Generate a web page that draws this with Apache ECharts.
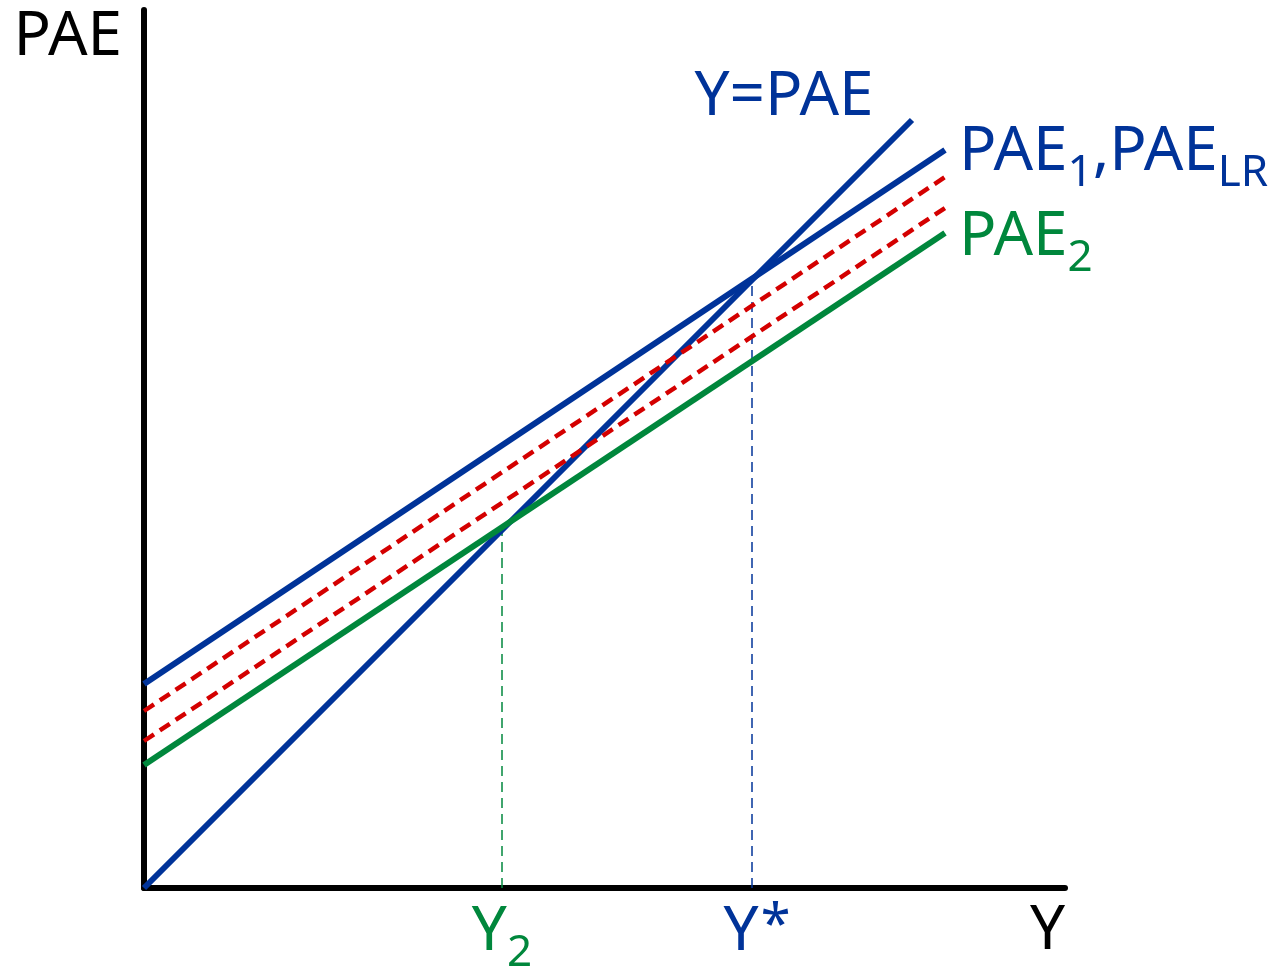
<!doctype html>
<html>
	<head>
		<meta charset="utf-8">
		<title>PAE</title>
		<script type="text/javascript" src="https://cdn.jsdelivr.net/npm/echarts@6/dist/echarts.min.js"></script>
	</head>

	<body style="margin:0;padding:0;background:#fff">
		<div id="tb" style="width:1282px;height:977px;"></div>
		<script>
			// 数据（单位：任意产出单位）
			var diagonal = [[0, 0], [768, 768]];          // Y = PAE
			var pae1 = [[0, 204], [801, 738]];            // PAE1, PAE_LR
			var paeShift1 = [[0, 177], [801, 711]];       // 红色虚线 1
			var paeShift2 = [[0, 147], [801, 680]];       // 红色虚线 2
			var pae2 = [[0, 123], [801, 655]];            // PAE2
			var equilibria = [608, 358];                  // Y*, Y2
			var equilibriumNames = ['{m|Y}{a|*}', '{m|Y}{s|2}'];
			var lineNames = ['{m|Y=PAE}', '{m|PAE}{s|1}{m|,PAE}{s|LR}', '{m|PAE}{s|2}'];

			var blue = '#003399';
			var green = '#00873c';
			var red = '#d40000';
			var font = 'Noto Sans';

			var rich = function(color) {
				return {
					m: {fontFamily: font, fontSize: 62, lineHeight: 62, color: color, verticalAlign: 'top'},
					a: {fontFamily: font, fontSize: 54, lineHeight: 54, color: color, verticalAlign: 'top', padding: [0, 0, 0, 2]},
					s: {fontFamily: font, fontSize: 44, lineHeight: 44, color: color, verticalAlign: 'top', padding: [30, 0, 0, 0]}
				};
			};

			// 线的终点带标签
			var withEndLabel = function(data, text, color, pos, offset) {
				var last = data[data.length - 1];
				return data.slice(0, -1).concat([{
					value: last,
					label: {show: true, formatter: text, position: pos, distance: 0, offset: offset, rich: rich(color)}
				}]);
			};

			var lineSeries = function(data, color, width, dash) {
				return {
					type: 'line',
					data: data,
					showSymbol: true,
					symbol: 'circle',
					symbolSize: 0,
					lineStyle: {color: color, width: width, type: dash || 'solid', cap: 'butt'},
					itemStyle: {color: color},
					silent: true
				};
			};

			var series = [];
			var eqColors = [blue, green];
			equilibria.forEach(function(x, i) {
				var s = lineSeries([
					{value: [x, 0], label: {show: true, formatter: equilibriumNames[i], position: 'bottom', distance: 13, offset: [i === 0 ? 5 : 0, 0], rich: rich(eqColors[i])}},
					[x, x]
				], eqColors[i], 1.5, [10, 6]);
				series.push(s);
			});
			series.push(lineSeries(withEndLabel(diagonal, lineNames[0], blue, 'top', [-128, 8]), blue, 6));
			series.push(lineSeries(paeShift1, red, 4.5, [12, 7]));
			series.push(lineSeries(paeShift2, red, 4.5, [12, 7]));
			series.push(lineSeries(withEndLabel(pae1, lineNames[1], blue, 'right', [14, 2]), blue, 6));
			series.push(lineSeries(withEndLabel(pae2, lineNames[2], green, 'right', [14, 4]), green, 6));

			var chart = echarts.init(document.getElementById('tb'));
			chart.setOption({
				animation: false,
				backgroundColor: '#fff',
				grid: {left: 144, top: 10, width: 921, height: 878, containLabel: false},
				xAxis: {
					type: 'value', min: 0, max: 921,
					name: 'Y', nameLocation: 'end', nameGap: 0,
					nameTextStyle: {fontFamily: font, fontSize: 62, lineHeight: 62, color: '#000', align: 'right', verticalAlign: 'top', padding: [12, 0, 0, 0]},
					axisLine: {show: true, lineStyle: {color: '#000', width: 6}},
					axisTick: {show: false}, axisLabel: {show: false}, splitLine: {show: false}
				},
				yAxis: {
					type: 'value', min: 0, max: 878,
					name: 'PAE', nameLocation: 'end', nameGap: 4,
					nameTextStyle: {fontFamily: font, fontSize: 62, lineHeight: 62, color: '#000', align: 'right', verticalAlign: 'top', padding: [0, 22, 0, 0]},
					axisLine: {show: true, lineStyle: {color: '#000', width: 6}},
					axisTick: {show: false}, axisLabel: {show: false}, splitLine: {show: false}
				},
				series: series
			});
		</script>
	</body>
</html>
